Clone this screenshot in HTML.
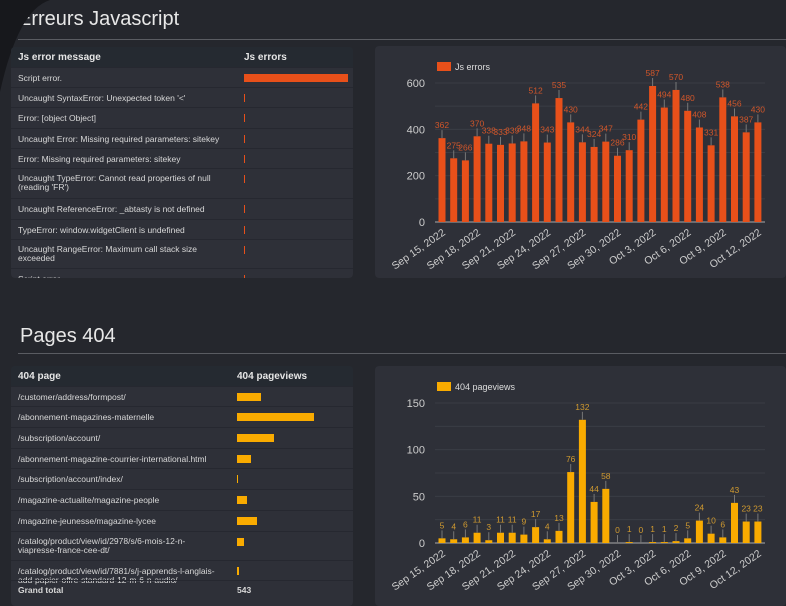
<!DOCTYPE html>
<html><head><meta charset="utf-8"><style>
body{margin:0;width:786px;height:594px;overflow:hidden;background:#25272d;font-family:"Liberation Sans",sans-serif;color:#ddd;position:relative}
.title{position:absolute;font-size:20px;color:#e8e8e8}
.rule{position:absolute;height:1px;background:#5a5c62;right:0}
.panel{position:absolute;background:#2e3038;border-radius:4px;overflow:hidden}
.tbl .hd{position:absolute;left:0;right:0;background:#252a31;font-weight:bold;font-size:10px;color:#e6e6e6}
.row{position:absolute;left:0;right:0;border-top:1px solid #262830;font-size:8.5px;color:#d8d8d8;line-height:9px}
.row span{position:absolute;left:7px}
.bar{position:absolute;height:8px}
svg text{font-family:"Liberation Sans",sans-serif}
</style></head><body>
<div class="title" style="left:18px;top:8px">Erreurs Javascript</div>
<div class="rule" style="left:18px;top:39px"></div>
<svg style="position:absolute;left:0;top:0" width="60" height="100"><path d="M0 0 H50 Q18 10 0 92 Z" fill="#17181c"/></svg>

<div class="panel tbl" style="left:11px;top:47px;width:342px;height:231px" id="t1"></div>
<div class="panel" style="left:375px;top:46px;width:411px;height:232px"><svg id="c1" width="411" height="232"></svg></div>

<div class="title" style="left:20px;top:325px">Pages 404</div>
<div class="rule" style="left:18px;top:353px"></div>
<div class="panel tbl" style="left:11px;top:366px;width:342px;height:240px" id="t2"></div>
<div class="panel" style="left:375px;top:366px;width:411px;height:240px"><svg id="c2" width="411" height="240"></svg></div>

<script>
const dates=["Sep 15, 2022","Sep 16","Sep 17","Sep 18, 2022","Sep 19","Sep 20","Sep 21, 2022","Sep 22","Sep 23","Sep 24, 2022","Sep 25","Sep 26","Sep 27, 2022","Sep 28","Sep 29","Sep 30, 2022","Oct 1","Oct 2","Oct 3, 2022","Oct 4","Oct 5","Oct 6, 2022","Oct 7","Oct 8","Oct 9, 2022","Oct 10","Oct 11","Oct 12, 2022"];
const jsErrors=[362,275,266,370,338,333,339,348,512,343,535,430,344,324,347,286,310,442,587,494,570,480,408,331,538,456,387,430];
const pageviews404=[5,4,6,11,3,11,11,9,17,4,13,76,132,44,58,0,1,0,1,1,2,5,24,10,6,43,23,23];
const jsTicks=[0,200,400,600];
const pvTicks=[0,50,100,150];
const jsMsgs=["Script error.","Uncaught SyntaxError: Unexpected token '<'","Error: [object Object]","Uncaught Error: Missing required parameters: sitekey","Error: Missing required parameters: sitekey","Uncaught TypeError: Cannot read properties of null (reading 'FR')","Uncaught ReferenceError: _abtasty is not defined","TypeError: window.widgetClient is undefined","Uncaught RangeError: Maximum call stack size exceeded","Script error."];
const jsCounts=[1000,8,8,8,8,8,8,8,8,8];
const pages=["/customer/address/formpost/","/abonnement-magazines-maternelle","/subscription/account/","/abonnement-magazine-courrier-international.html","/subscription/account/index/","/magazine-actualite/magazine-people","/magazine-jeunesse/magazine-lycee","/catalog/product/view/id/2978/s/6-mois-12-n-viapresse-france-cee-dt/","/catalog/product/view/id/7881/s/j-apprends-l-anglais-add-papier-offre-standard-12-m-6-n-audio/"];
const pageCounts=[24,77,37,14,1,10,20,7,2];

function table(id,h1,h2,labels,vals,heights,barX,barMax,color,total){
  const t=document.getElementById(id);
  const hd=document.createElement('div');hd.className='hd';hd.style.top='0';hd.style.height='20px';
  
  
  hd.innerHTML='<span style="position:absolute;left:7px;top:5px">'+h1+'</span><span style="position:absolute;left:'+barX+'px;top:5px">'+h2+'</span>';
  t.appendChild(hd);
  const mx=Math.max(...vals);let y=20;
  labels.forEach((l,i)=>{
    const r=document.createElement('div');r.className='row';
    
    
    r.style.top=y+'px';r.style.height=heights[i]+'px';
    const two=heights[i]>24;
    r.innerHTML='<span style="top:'+(two?5:6)+'px;width:'+(barX-20)+'px">'+l+'</span>';
    const b=document.createElement('div');b.className='bar';
    
    
    b.style.left=barX+'px';b.style.top='6px';b.style.background=color;
    b.style.width=Math.max(1,vals[i]/mx*barMax)+'px';
    r.appendChild(b);t.appendChild(r);y+=heights[i];
  });
  if(total){const r=document.createElement('div');r.className='row';r.style.top=y+'px';r.style.height='18px';r.style.fontWeight='bold';
    
    
    r.innerHTML='<span style="top:5px">Grand total</span><span style="left:'+barX+'px;top:5px">'+total+'</span>';t.appendChild(r);}
}
table('t1','Js error message','Js errors',jsMsgs,jsCounts,[20,20,21,20,20,30,21,20,29,20],233,104,'#e8501a',null);
table('t2','404 page','404 pageviews',pages,pageCounts,[20,21,21,20,21,21,21,29,20],226,77,'#f9ab00','543');

function chart(id,vals,ticks,color,labColor,legend,y0,ytop,minorStep){
  const s=document.getElementById(id),NS='http://www.w3.org/2000/svg';
  const maxV=ticks[ticks.length-1];
  const yS=v=>y0-(v/maxV)*(y0-ytop);
  const x0=67,step=11.7,xS=i=>x0+i*step,bw=7;
  function el(tag,a,txt){const e=document.createElementNS(NS,tag);for(const k in a)e.setAttribute(k,a[k]);if(txt!=null)e.textContent=txt;s.appendChild(e);return e;}
  for(let v=0;v<=maxV;v+=minorStep){const g=el('line',{x1:60,x2:390,y1:yS(v),y2:yS(v),stroke:'#3a3d45','stroke-width':1});
    
    }
  ticks.forEach(t=>{const e=el('text',{x:50,y:yS(t)+4,'text-anchor':'end','font-size':11,fill:'#ccc'},t);
    
    });
  el('line',{x1:60,x2:390,y1:y0,y2:y0,stroke:'#aaa','stroke-width':1});
  vals.forEach((v,i)=>{
    const r=el('rect',{x:xS(i)-bw/2,y:yS(v),width:bw,height:y0-yS(v),fill:color});
    
    
    el('line',{x1:xS(i),x2:xS(i),y1:yS(v),y2:yS(v)-8,stroke:'#777','stroke-width':1});
    const l=el('text',{x:xS(i),y:yS(v)-10,'text-anchor':'middle','font-size':8.5,fill:labColor},v);
    
    
    if(i%3===0){const x=xS(i);const t=el('text',{x:x+4,y:y0+12,'text-anchor':'end','font-size':10.5,fill:'#ccc',transform:'rotate(-35 '+(x+4)+' '+(y0+12)+')'},dates[i]);
      
      }
  });
  const lg=el('rect',{x:62,y:16,width:14,height:9,fill:color});
  
  
  const lt=el('text',{x:80,y:24,'font-size':9,fill:'#ddd'},legend);
  
  
}
chart('c1',jsErrors,jsTicks,'#e8501a','#d0562a','Js errors',176,37,100);
chart('c2',pageviews404,pvTicks,'#f9ab00','#d09a30','404 pageviews',177,37,25);
</script>
</body></html>
